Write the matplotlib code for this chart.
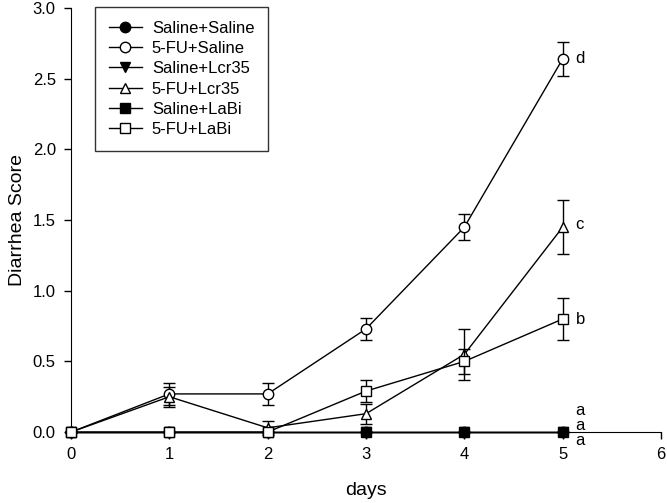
import matplotlib
matplotlib.use("Agg")
import matplotlib.pyplot as plt

plt.rcParams['font.family'] = ['Liberation Sans', 'DejaVu Sans']

days = [0, 1, 2, 3, 4, 5]

saline_saline = [0, 0, 0, 0, 0, 0]
fu_saline = [0, 0.27, 0.27, 0.73, 1.45, 2.64]
fu_saline_err = [0, 0.08, 0.075, 0.08, 0.09, 0.12]
saline_lcr35 = [0, 0, 0, 0, 0, 0]
fu_lcr35 = [0, 0.25, 0.03, 0.13, 0.55, 1.45]
fu_lcr35_err = [0, 0.07, 0.05, 0.07, 0.18, 0.19]
saline_labi = [0, 0, 0, 0, 0, 0]
fu_labi = [0, 0, 0, 0.29, 0.5, 0.8]
fu_labi_err = [0, 0, 0, 0.08, 0.09, 0.15]

letters = ['d', 'c', 'b', 'a', 'a', 'a']
letter_y = [2.64, 1.47, 0.8, 0.15, 0.05, -0.06]


def main():
    fig = plt.figure(figsize=(6.67, 5.03), dpi=100)
    ax = fig.add_axes([0.1065, 0.141, 0.8845, 0.843])

    kw = dict(color='black', lw=1.0, ms=7.5, capsize=4.5, elinewidth=1.0,
              capthick=1.0, mec='black', mew=1.0, clip_on=False)

    handles = []
    c = ax.errorbar(days, saline_saline, marker='o', mfc='black', zorder=3, **kw)
    handles.append(c.lines[0])
    c = ax.errorbar(days, fu_saline, yerr=fu_saline_err, marker='o', mfc='white',
                    zorder=4, **kw)
    handles.append(c.lines[0])
    c = ax.errorbar(days, saline_lcr35, marker='v', mfc='black', zorder=3, **kw)
    handles.append(c.lines[0])
    c = ax.errorbar(days, fu_lcr35, yerr=fu_lcr35_err, marker='^', mfc='white',
                    zorder=4, **kw)
    handles.append(c.lines[0])
    c = ax.errorbar(days, saline_labi, marker='s', mfc='black', zorder=3,
                    **dict(kw, ms=7))
    handles.append(c.lines[0])
    c = ax.errorbar(days, fu_labi, yerr=fu_labi_err, marker='s', mfc='white',
                    zorder=5, **dict(kw, ms=7))
    handles.append(c.lines[0])
    labels = ['Saline+Saline', '5-FU+Saline', 'Saline+Lcr35',
              '5-FU+Lcr35', 'Saline+LaBi', '5-FU+LaBi']

    for t, y in zip(letters, letter_y):
        ax.text(5.13, y, t, fontsize=12, va='center', ha='left')

    ax.set_xlim(0, 6)
    ax.set_ylim(0, 3.0)
    ax.set_xticks(range(0, 7))
    ax.set_yticks([0, 0.5, 1.0, 1.5, 2.0, 2.5, 3.0])
    ax.set_yticklabels(['0.0', '0.5', '1.0', '1.5', '2.0', '2.5', '3.0'])
    ax.tick_params(direction='out', labelsize=12, length=5, width=1, pad=6)
    ax.spines['top'].set_visible(False)
    ax.spines['right'].set_visible(False)

    ax.set_xlabel('days', fontsize=14, labelpad=14)
    ax.set_ylabel('Diarrhea Score', fontsize=14, labelpad=5)

    leg = ax.legend(handles, labels, loc='upper left',
                    bbox_to_anchor=(0.041, 1.002), fontsize=12,
                    frameon=True, fancybox=False, edgecolor='black',
                    handlelength=2.0, handletextpad=0.6, labelspacing=0.32,
                    borderpad=0.8, borderaxespad=0)
    leg.get_frame().set_linewidth(1.0)

    fig.savefig('out.png', dpi=100)


if __name__ == '__main__':
    main()
